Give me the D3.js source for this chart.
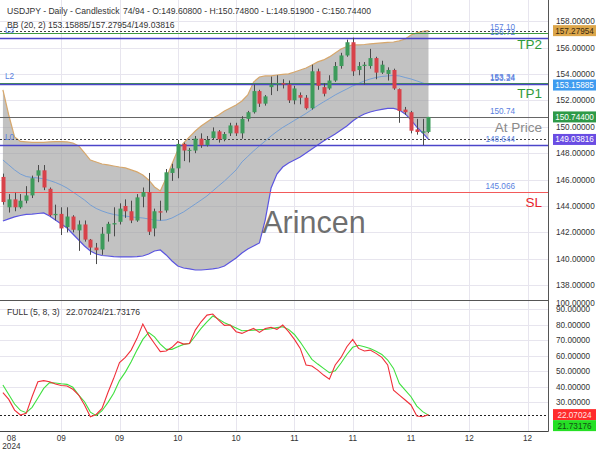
<!DOCTYPE html>
<html><head><meta charset="utf-8">
<script src="https://cdn.jsdelivr.net/npm/d3@7"></script>
<style>
body{margin:0;background:#fff}
svg{display:block}
text{font-family:"Liberation Sans",Arial,sans-serif}
</style>
</head><body>
<svg id="c" width="600" height="450"></svg>
<script>
// ---------------- DATA ----------------
const symbolTitle = "USDJPY - Daily - Candlestick";
const barCountText = "74/94";
const opens = [146.20,143.90,144.50,143.90,144.40,144.80,146.30,146.70,145.30,143.30,
  143.40,142.40,143.20,142.15,142.60,141.45,140.85,140.70,141.90,142.60,
  142.80,144.00,143.60,142.90,144.70,145.05,142.30,143.60,143.66,146.50,
  146.85,148.70,148.20,148.20,149.10,148.60,149.15,149.65,149.05,149.50,
  150.10,149.50,150.60,151.10,152.70,151.75,153.00,153.20,153.30,153.20,
  152.00,152.40,152.20,151.40,154.20,153.00,152.90,153.50,154.60,155.40,
  156.40,154.30,154.60,154.60,155.20,154.10,154.00,154.30,152.85,151.30,
  151.10,149.80,149.55,149.608];
const highs = [146.45,144.90,145.00,144.90,145.50,146.30,147.10,147.10,145.40,144.10,
  143.90,143.90,143.30,142.90,142.90,141.50,141.20,142.40,142.80,143.90,
  144.20,144.50,144.40,144.90,145.40,146.50,143.80,144.40,146.80,147.20,
  149.00,148.80,148.40,149.30,149.50,149.30,149.95,149.75,149.60,150.30,
  150.30,150.80,151.20,153.20,152.80,152.40,153.80,153.90,153.60,153.50,
  153.10,152.60,152.40,154.70,154.40,153.30,153.90,154.90,155.60,156.60,
  156.75,154.90,154.90,155.90,155.30,155.00,154.50,154.40,152.90,151.50,
  151.20,150.60,150.60,150.748];
const lows = [144.10,143.50,143.60,143.80,144.20,144.60,145.80,145.20,143.20,142.90,
  141.80,142.00,142.00,140.60,141.30,140.30,139.60,140.30,141.30,141.70,
  142.60,143.10,142.70,142.80,143.90,141.80,141.70,142.90,143.50,145.90,
  146.10,147.40,147.30,148.00,148.40,148.50,149.05,148.80,148.90,149.30,
  149.30,149.10,150.40,151.00,151.50,151.60,152.40,152.70,152.90,151.80,
  151.70,151.70,151.30,151.30,152.80,152.30,152.80,153.40,154.40,155.30,
  153.85,153.90,153.20,154.40,153.60,154.00,153.50,152.80,150.30,150.90,
  149.50,149.40,148.60,149.519];
const closes = [144.30,144.50,143.90,144.40,144.80,146.10,146.70,145.40,143.30,143.40,
  142.30,143.20,142.20,142.60,141.45,140.85,140.65,141.90,142.65,142.70,
  143.80,143.60,142.90,144.65,145.05,142.05,143.60,143.50,146.55,146.85,
  148.70,148.20,148.25,149.10,148.60,149.00,149.65,149.05,149.45,150.10,
  149.50,150.60,151.10,152.70,151.75,152.30,153.20,153.30,153.20,152.00,
  152.90,152.20,151.40,154.20,153.10,152.50,153.50,154.60,155.40,156.40,
  154.20,154.60,154.70,155.20,154.10,154.70,154.30,152.90,151.20,151.10,
  149.70,149.60,149.65,150.744];

const bbUpper = [152.79,150.89,149.23,148.89,148.85,148.81,148.81,148.81,148.85,148.87,
  148.87,148.85,148.77,148.55,148.02,147.48,147.33,147.18,147.11,147.03,
  146.95,146.88,146.73,146.58,146.35,145.97,145.44,145.14,146.12,147.18,
  148.24,148.77,149.23,149.68,150.06,150.36,150.67,150.89,151.20,151.42,
  151.65,151.95,152.41,153.39,153.77,153.85,153.85,153.92,153.96,154.00,
  154.15,154.30,154.45,154.68,154.91,155.06,155.29,155.59,155.89,156.08,
  156.20,156.20,156.23,156.27,156.31,156.35,156.39,156.42,156.50,156.65,
  156.95,157.11,157.22,157.27954];
const bbMiddle = [147.48,147.11,146.73,146.42,146.23,146.16,146.12,146.05,145.93,145.78,
  145.59,145.36,145.06,144.76,144.45,144.08,143.81,143.62,143.47,143.36,
  143.28,143.24,143.17,143.13,143.09,143.02,142.94,142.90,142.94,143.09,
  143.32,143.55,143.85,144.15,144.45,144.76,145.14,145.52,145.89,146.31,
  146.73,147.33,147.75,148.17,148.55,148.92,149.30,149.64,149.95,150.21,
  150.48,150.74,151.01,151.31,151.61,151.88,152.14,152.41,152.64,152.86,
  153.09,153.28,153.47,153.62,153.73,153.81,153.85,153.89,153.85,153.73,
  153.62,153.47,153.32,153.15885];
const bbLower = [142.86,143.02,143.17,143.28,143.36,143.39,143.43,143.47,143.24,142.94,
  142.64,142.33,141.88,141.42,140.97,140.59,140.36,140.25,140.21,140.17,
  140.14,140.14,140.14,140.17,140.21,140.36,140.59,140.67,140.29,139.83,
  139.45,139.30,139.23,139.15,139.15,139.19,139.23,139.30,139.45,139.76,
  140.06,140.44,140.74,140.97,141.20,142.95,145.36,146.42,146.95,147.26,
  147.48,147.71,148.02,148.32,148.62,148.92,149.19,149.45,149.76,150.06,
  150.44,150.74,150.97,151.12,151.23,151.31,151.39,151.39,151.27,150.97,
  150.52,149.98,149.53,149.03816];

const stochK = [36.2,31.9,25.0,21.8,22.9,33.6,43.3,44.0,43.3,41.8,
  40.9,40.5,38.4,34.7,28.3,20.7,22.2,26.1,36.2,45.5,
  55.6,59.0,63.7,71.3,80.5,73.4,68.0,62.7,63.1,65.5,
  69.1,67.6,68.0,76.6,82.0,86.3,87.0,83.1,79.7,79.9,
  75.6,74.5,76.2,77.7,75.1,77.7,78.4,77.1,79.9,75.6,
  70.6,64.8,54.1,53.4,50.8,47.6,45.0,54.1,59.0,65.9,
  70.6,64.8,63.1,63.7,61.6,59.0,54.1,37.9,34.7,31.5,
  28.3,21.2,20.7,22.07024];
const stochD = [41.2,35.1,28.9,24.8,23.3,26.8,32.8,39.0,42.7,42.5,
  42.0,41.6,39.7,34.7,30.4,23.7,21.4,24.6,29.8,35.8,
  44.0,49.5,56.2,63.7,70.6,75.1,72.3,67.6,64.2,64.2,
  65.9,67.4,68.0,72.8,77.7,82.0,85.7,83.7,81.4,79.7,
  77.9,76.2,76.4,76.6,76.9,77.1,77.5,78.2,78.8,77.1,
  73.8,68.9,63.3,57.7,54.7,51.9,49.1,50.4,55.4,60.9,
  65.5,66.8,65.9,64.8,62.9,60.9,57.3,51.9,42.2,37.9,
  33.6,27.6,24.0,21.73176];

const slotCount = 94;
const xTickIndex = [10,20,30,40,50,60,70,80,90];
const xTickLabels = ["09","09","10","10","11","11","11","12","12"];
const firstTickLabel = ["08","2024"];
const priceTicks = [138,140,142,144,146,148,150,152,154,156,158];
const stochTicks = [30,40,50,60,70,80,90,100];

const levelValues = [157.10,156.72,153.34,153.24,150.74,148.644,145.066];
const levelTexts  = ["157.10","156.72","153.34","153.24","150.74","148.644","145.066"];
const levelTags   = ["TP2","L3","TP1","L2","At Price","L0","SL"];
const levelKinds  = ["tp","l","tp","l","price","l","sl"];

// ---------------- DRAW ----------------
const svg = d3.select("#c");
const W = 548;
const mainTop = 0, mainBot = 298, subTop = 301, subBot = 431;

const x = d3.scalePoint().domain(d3.range(slotCount)).range([0, W]).padding(0.5);
const y = d3.scaleLinear().domain([137.03, 159.6]).range([mainBot, mainTop]);
const y2 = d3.scaleLinear().domain([11.5, 95.4]).range([subBot, subTop]);
const idx = d3.range(closes.length);

const defs = svg.append("defs");
defs.append("clipPath").attr("id","cm").append("rect").attr("x",0).attr("y",0).attr("width",W).attr("height",mainBot+2);
defs.append("clipPath").attr("id","cs").append("rect").attr("x",0).attr("y",subTop).attr("width",W).attr("height",subBot-subTop);

const gridCol = "#e7e5ee";
const gm = svg.append("g").attr("clip-path","url(#cm)");
gm.selectAll("line.h").data(priceTicks).join("line")
  .attr("x1",0).attr("x2",W).attr("y1",d=>Math.round(y(d))+0.5).attr("y2",d=>Math.round(y(d))+0.5)
  .attr("stroke",gridCol);
gm.selectAll("line.v").data(xTickIndex).join("line")
  .attr("x1",d=>Math.round(x(d))+0.5).attr("x2",d=>Math.round(x(d))+0.5).attr("y1",0).attr("y2",mainBot+2)
  .attr("stroke",gridCol);
const gs = svg.append("g").attr("clip-path","url(#cs)");
gs.selectAll("line.h").data(stochTicks.filter(d=>d<95)).join("line")
  .attr("x1",0).attr("x2",W).attr("y1",d=>Math.round(y2(d))+0.5).attr("y2",d=>Math.round(y2(d))+0.5)
  .attr("stroke",gridCol);
gs.selectAll("line.v").data(xTickIndex).join("line")
  .attr("x1",d=>Math.round(x(d))+0.5).attr("x2",d=>Math.round(x(d))+0.5).attr("y1",subTop).attr("y2",subBot)
  .attr("stroke",gridCol);

// Bollinger band
const bandArea = d3.area().x(i=>x(i)).y0(i=>y(bbLower[i])).y1(i=>y(bbUpper[i]));
gm.append("path").datum(idx).attr("d",bandArea).attr("fill","#9a9a9a").attr("fill-opacity",0.6);
gm.append("path").datum(idx).attr("d",d3.line().x(i=>x(i)).y(i=>y(bbUpper[i])))
  .attr("fill","none").attr("stroke","#d6a76c").attr("stroke-width",1.2);
gm.append("path").datum(idx).attr("d",d3.line().x(i=>x(i)).y(i=>y(bbLower[i])))
  .attr("fill","none").attr("stroke","#5b55e0").attr("stroke-width",1.2);
gm.append("path").datum(idx).attr("d",d3.line().x(i=>x(i)).y(i=>y(bbMiddle[i])))
  .attr("fill","none").attr("stroke","#6d9bd6").attr("stroke-width",0.9);

// level lines
const levelColor = {tp:"#3f9a3f", l:"#4b45c9", price:"#666666", sl:"#f25a5a"};
const lv = d3.range(levelValues.length);
gm.selectAll("line.lv").data(lv).join("line")
  .attr("x1",0).attr("x2",W)
  .attr("y1",i=>Math.round(y(levelValues[i]))+0.5).attr("y2",i=>Math.round(y(levelValues[i]))+0.5)
  .attr("stroke",i=>levelColor[levelKinds[i]]).attr("stroke-width",i=>levelKinds[i]==="l"?1.3:1.2);

// dotted current BB upper / lower
const last = closes.length-1;
[bbUpper[last], bbLower[last]].forEach(v=>{
  gm.append("line").attr("x1",0).attr("x2",W)
    .attr("y1",Math.round(y(v))+0.5).attr("y2",Math.round(y(v))+0.5)
    .attr("stroke","#444").attr("stroke-dasharray","2,2");
});

// candles
const upCol = "#3d9b5b", dnCol = "#d8424a";
const cg = gm.append("g");
cg.selectAll("line.w").data(idx).join("line")
  .attr("x1",i=>Math.round(x(i))+0.5).attr("x2",i=>Math.round(x(i))+0.5)
  .attr("y1",i=>y(highs[i])).attr("y2",i=>y(lows[i]))
  .attr("stroke","#4a4a4a").attr("stroke-width",1);
const bw = 4;
cg.selectAll("rect.b").data(idx).join("rect")
  .attr("x",i=>Math.round(x(i))-bw/2+0.5).attr("width",bw)
  .attr("y",i=>y(Math.max(opens[i],closes[i])))
  .attr("height",i=>Math.max(1,Math.abs(y(opens[i])-y(closes[i]))))
  .attr("fill",i=>closes[i]>=opens[i]?upCol:dnCol);

// level value labels and tags
gm.selectAll("text.lvt").data(lv).join("text")
  .attr("x",515).attr("y",i=>y(levelValues[i])-3)
  .attr("text-anchor","end").attr("font-size",8.2).attr("fill","#5b7fe0")
  .text(i=>levelTexts[i]);
const bigTagCol = {tp:"#2f9a3a", price:"#8a8a8a", sl:"#e8232c"};
gm.selectAll("text.tag").data(lv.filter(i=>levelKinds[i]!=="l")).join("text")
  .attr("x",542).attr("y",i=>y(levelValues[i])+15.5)
  .attr("text-anchor","end").attr("font-size",13.5).attr("fill",i=>bigTagCol[levelKinds[i]])
  .text(i=>levelTags[i]);
gm.selectAll("text.ltag").data(lv.filter(i=>levelKinds[i]==="l")).join("text")
  .attr("x",5).attr("y",i=>y(levelValues[i])-5)
  .attr("font-size",8.2).attr("fill","#5b7fe0")
  .text(i=>levelTags[i]);

// watermark
svg.append("text").attr("x",314).attr("y",233).attr("text-anchor","middle")
  .attr("font-size",30.5).attr("fill","#555").attr("fill-opacity",0.85).text("Arincen");

// stochastic
const gsl = svg.append("g").attr("clip-path","url(#cs)");
gsl.append("line").attr("x1",0).attr("x2",W)
  .attr("y1",Math.round(y2(stochD[last]))+0.5).attr("y2",Math.round(y2(stochD[last]))+0.5)
  .attr("stroke","#222").attr("stroke-dasharray","2,2");
gsl.append("path").datum(idx).attr("d",d3.line().x(i=>x(i)).y(i=>y2(stochD[i])))
  .attr("fill","none").attr("stroke","#3fe03f").attr("stroke-width",1.1);
gsl.append("path").datum(idx).attr("d",d3.line().x(i=>x(i)).y(i=>y2(stochK[i])))
  .attr("fill","none").attr("stroke","#f0303a").attr("stroke-width",1.1);

// frame lines
svg.append("line").attr("x1",0).attr("x2",W).attr("y1",300.5).attr("y2",300.5).attr("stroke","#555");
svg.append("line").attr("x1",0).attr("x2",W+0.5).attr("y1",subBot+0.5).attr("y2",subBot+0.5).attr("stroke","#444");
svg.append("line").attr("x1",W+0.5).attr("x2",W+0.5).attr("y1",0).attr("y2",subBot+0.5).attr("stroke","#555");

// right axis labels
const axCol = "#333";
svg.selectAll("text.pt").data(priceTicks).join("text")
  .attr("x",556).attr("y",d=>y(d)+3).attr("font-size",8.2).attr("fill",axCol)
  .text(d=>d.toFixed(5));
svg.selectAll("text.st").data(stochTicks).join("text")
  .attr("x",556).attr("y",d=>Math.max(y2(d),303)+3).attr("font-size",8.2).attr("fill",axCol)
  .text(d=>d.toFixed(5));

// value boxes
function box(val, yy, bg, fg){
  svg.append("rect").attr("x",553).attr("y",yy-5.5).attr("width",43).attr("height",11).attr("fill",bg);
  svg.append("text").attr("x",574.5).attr("y",yy+3).attr("text-anchor","middle")
    .attr("font-size",8.2).attr("fill",fg).text(val.toFixed(5));
}
box(bbUpper[last], y(bbUpper[last]), "#dca64a", "#3a2a10");
box(bbMiddle[last], y(bbMiddle[last]), "#3f9cf0", "#ffffff");
box(closes[last], y(closes[last]), "#2e9a48", "#ffffff");
box(bbLower[last], y(bbLower[last]), "#6a4de3", "#ffffff");
const ky = y2(stochK[last]);
box(stochK[last], ky, "#ff2b2b", "#ffe0e0");
box(stochD[last], ky+11, "#25e025", "#145014");

// x axis labels
svg.selectAll("text.xt").data(xTickIndex).join("text")
  .attr("x",i=>x(i)).attr("y",441).attr("text-anchor","middle")
  .attr("font-size",8.2).attr("fill",axCol)
  .text((d,k)=>xTickLabels[k]);
firstTickLabel.forEach((t,k)=>{
  svg.append("text").attr("x",x(0)+8.5).attr("y",441+k*7.5).attr("text-anchor","middle")
    .attr("font-size",8.2).attr("fill",axCol).text(t);
});

// headers
const hCol = "#333";
svg.append("text").attr("x",7).attr("y",14).attr("font-size",8.6).attr("fill",hCol).text(symbolTitle);
svg.append("text").attr("x",123).attr("y",14).attr("font-size",8.6).attr("fill",hCol)
  .text(`${barCountText} - O:${opens[last].toFixed(5)} - H:${highs[last].toFixed(5)} - L:${lows[last].toFixed(5)} - C:${closes[last].toFixed(5)}`);
svg.append("text").attr("x",7).attr("y",28).attr("font-size",8.6).attr("fill",hCol).text("BB (20, 2)");
svg.append("text").attr("x",48).attr("y",28).attr("font-size",8.6).attr("fill",hCol)
  .text(`${bbMiddle[last].toFixed(5)}/${bbUpper[last].toFixed(5)}/${bbLower[last].toFixed(5)}`);
svg.append("text").attr("x",7).attr("y",315).attr("font-size",8.6).attr("fill",hCol).text("FULL (5, 8, 3)");
svg.append("text").attr("x",66).attr("y",315).attr("font-size",8.6).attr("fill",hCol)
  .text(`${stochK[last].toFixed(5)}/${stochD[last].toFixed(5)}`);
</script>
</body></html>
